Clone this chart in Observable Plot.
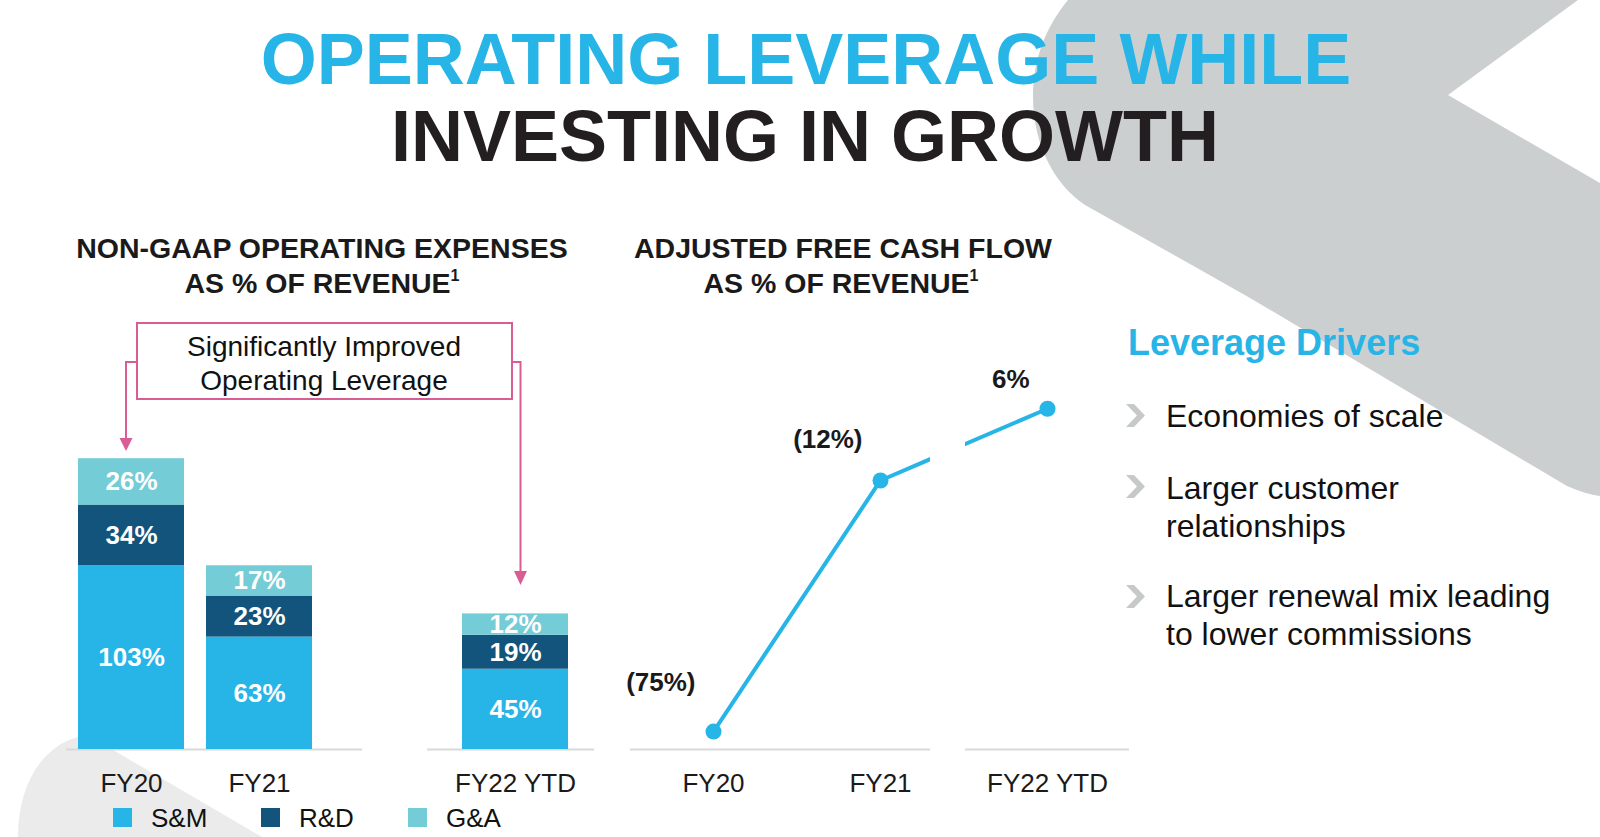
<!DOCTYPE html>
<html><head><meta charset="utf-8">
<script src="https://cdn.jsdelivr.net/npm/d3@7"></script>
<script src="https://cdn.jsdelivr.net/npm/@observablehq/plot@0.6"></script>
<style>
html,body{margin:0;padding:0;background:#fff;}
#page{position:relative;width:1600px;height:837px;overflow:hidden;font-family:"Liberation Sans",Arial,Helvetica,sans-serif;}
.layer{position:absolute;left:0;top:0;}
.chart{position:absolute;}
</style></head><body>
<div id="page">
<svg class="layer" id="bg" width="1600" height="837">
  <path d="M1068 0 L1578 0 L1448 95 L1600 183 L1600 496 Q1585 494 1567 486 L1250 298 L1190 264 L1085 205 C1055 185 1033 145 1033 97 C1033 60 1045 28 1068 0 Z" fill="#cccfd0"/>
  <path d="M18 837 C18 790 38 748 78 737 C84 735 90 736 96 740 L262 837 Z" fill="#ebebeb"/>
</svg>
<div class="chart" id="barA" style="left:66px;top:440px;width:296px"></div>
<div class="chart" id="barB" style="left:427px;top:440px;width:167px"></div>
<div class="chart" id="lineA" style="left:600px;top:360px;width:330px"></div>
<div class="chart" id="lineB" style="left:965px;top:360px;width:164px"></div>
<svg class="layer" id="fg" width="1600" height="837" style="pointer-events:none" font-family="Liberation Sans, Arial, Helvetica, sans-serif">
  <text x="806" y="84" text-anchor="middle" font-size="72" font-weight="bold" fill="#27b5e7">OPERATING LEVERAGE WHILE</text>
  <text x="805" y="161" text-anchor="middle" font-size="72" font-weight="bold" fill="#231f20">INVESTING IN GROWTH</text>

  <text x="322" y="258" text-anchor="middle" font-size="28.5" font-weight="bold" fill="#1a1a1a">NON-GAAP OPERATING EXPENSES</text>
  <text x="322" y="293" text-anchor="middle" font-size="28.5" font-weight="bold" fill="#1a1a1a">AS % OF REVENUE<tspan font-size="16" dy="-12">1</tspan></text>
  <text x="843" y="258" text-anchor="middle" font-size="28.5" font-weight="bold" fill="#1a1a1a">ADJUSTED FREE CASH FLOW</text>
  <text x="841" y="293" text-anchor="middle" font-size="28.5" font-weight="bold" fill="#1a1a1a">AS % OF REVENUE<tspan font-size="16" dy="-12">1</tspan></text>

  <g stroke="#d95c94" stroke-width="2" fill="none">
    <rect x="137" y="323" width="375" height="76" fill="#fff"/>
    <polyline points="137,362 126,362 126,440"/>
    <polyline points="512,362 520.5,362 520.5,573"/>
  </g>
  <g fill="#d95c94">
    <polygon points="119.5,438 132.5,438 126,451"/>
    <polygon points="514,571 527,571 520.5,585"/>
  </g>
  <text x="324" y="356" text-anchor="middle" font-size="28" fill="#111">Significantly Improved</text>
  <text x="324" y="390" text-anchor="middle" font-size="28" fill="#111">Operating Leverage</text>

  <text x="1128" y="355" font-size="36" font-weight="bold" fill="#27b5e7">Leverage Drivers</text>
  <g fill="#c6c9ca">
    <polygon points="1126,404 1134,404 1145,415.5 1134,427 1126,427 1137,415.5"/>
    <polygon points="1126,475 1134,475 1145,486.5 1134,498 1126,498 1137,486.5"/>
    <polygon points="1126,585 1134,585 1145,596.5 1134,608 1126,608 1137,596.5"/>
  </g>
  <g font-size="32" fill="#111">
    <text x="1166" y="427">Economies of scale</text>
    <text x="1166" y="499">Larger customer</text>
    <text x="1166" y="537">relationships</text>
    <text x="1166" y="607">Larger renewal mix leading</text>
    <text x="1166" y="645">to lower commissions</text>
  </g>
  <g id="legend"></g>
</svg>
</div>
<script>
// ---- data ----
const years = ["FY20", "FY21", "FY22 YTD"];
const series = ["S&M", "R&D", "G&A"];
const smPct = [103, 63, 45];
const rdPct = [34, 23, 19];
const gaPct = [26, 17, 12];
const seriesColors = ["#27b5e7", "#12547c", "#74ccd6"];
const fcfPct = [-75, -12, 6];
const fcfLabels = ["(75%)", "(12%)", "6%"];
const barGroups = [["FY20", "FY21"], ["FY22 YTD"]];

const expenses = years.flatMap((year, i) => [
  {year, series: series[0], value: smPct[i]},
  {year, series: series[1], value: rdPct[i]},
  {year, series: series[2], value: gaPct[i]}
]);
const fcf = years.map((year, i) => ({year, value: fcfPct[i], label: fcfLabels[i]}));

const font = "Liberation Sans, Arial, Helvetica, sans-serif";
const axisGray = "#d9d9d9";

function barChart(group, range, width) {
  const data = expenses.filter(d => group.includes(d.year));
  return Plot.plot({
    width, height: 369,
    marginTop: 0, marginBottom: 60, marginLeft: 0, marginRight: 0,
    style: {background: "transparent", fontFamily: font, fontSize: "26px", color: "#1a1a1a"},
    x: {domain: group, range, paddingInner: 0.175, paddingOuter: 0.0875, label: null, tickSize: 0, tickPadding: 24},
    y: {domain: [0, 173.2], axis: null},
    color: {domain: series, range: seriesColors},
    marks: [
      Plot.ruleY([0], {stroke: axisGray, strokeWidth: 2}),
      Plot.barY(data, {x: "year", y: "value", fill: "series"}),
      Plot.text(data, Plot.stackY({x: "year", y: "value", z: "series", text: d => d.value + "%",
        fill: "white", fontWeight: "bold", fontSize: 26}))
    ]
  });
}

const fcfDomain = [-79.5, 18.1];
const labelLift = {"FY20": -49, "FY21": -41, "FY22 YTD": -29};

function lineChart(shown, range, width, marginLeft) {
  return Plot.plot({
    width, height: 449,
    marginTop: 0, marginBottom: 60, marginLeft, marginRight: 0,
    style: {background: "transparent", fontFamily: font, fontSize: "26px", color: "#1a1a1a"},
    x: {domain: years, range, padding: 0, ticks: shown, tickFormat: d => shown.includes(d) ? d : "",
        label: null, tickSize: 0, tickPadding: 24},
    y: {domain: fcfDomain, axis: null},
    marks: [
      Plot.ruleY([fcfDomain[0]], {stroke: axisGray, strokeWidth: 2}),
      Plot.line(fcf, {x: "year", y: "value", stroke: "#27b5e7", strokeWidth: 4, clip: true}),
      Plot.dot(fcf.filter(d => shown.includes(d.year)), {x: "year", y: "value", r: 8, fill: "#27b5e7"}),
      ...shown.map(yr => Plot.text(fcf.filter(d => d.year === yr), {
        x: "year", y: "value", text: "label", textAnchor: "end", dx: -18, dy: labelLift[yr],
        fontWeight: "bold", fontSize: 26, fill: "#1a1a1a"}))
    ]
  });
}

document.getElementById("barA").append(barChart(barGroups[0], [0, 257], 296));
document.getElementById("barB").append(barChart(barGroups[1], [23.76, 152.26], 167));
document.getElementById("lineA").append(lineChart(["FY20", "FY21"], [113, 447], 330, 30));
document.getElementById("lineB").append(lineChart(["FY22 YTD"], [-252, 82], 164, 0));

// legend
const legendX = [113, 261, 408];
const lg = d3.select("#legend");
series.forEach((s, i) => {
  lg.append("rect").attr("x", legendX[i]).attr("y", 808).attr("width", 19).attr("height", 19).attr("fill", seriesColors[i]);
  lg.append("text").attr("x", legendX[i] + 38).attr("y", 827).attr("font-size", 26).attr("fill", "#111").text(s);
});
</script>
</body></html>
